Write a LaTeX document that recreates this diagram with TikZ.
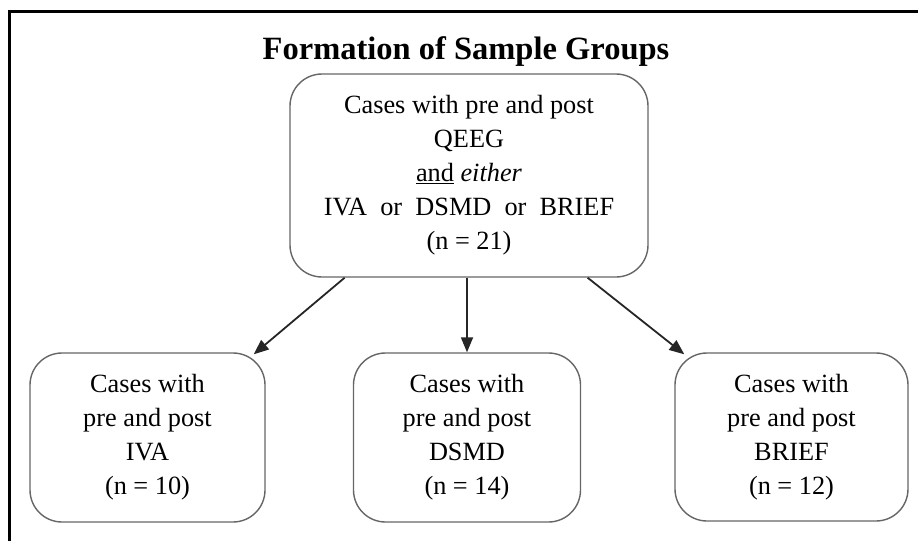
\documentclass[tikz,border=0pt]{standalone}
\usepackage{fontspec}
\setmainfont{Liberation Serif}
\usetikzlibrary{calc,arrows.meta}
\begin{document}
\begin{tikzpicture}[x=1pt,y=-1pt,
  box/.style={draw=black!60, line width=1.4pt, rounded corners=32pt,
    inner sep=0pt, align=center, font=\fontsize{26.3}{34}\selectfont},
  arr/.style={-{Triangle[length=15pt,width=12pt]}, line width=1.8pt, draw=black!85}]
\useasboundingbox (0,0) rectangle (918,541);
% page frame (top and left rules)
\draw[line width=3pt] (9,541) -- (9,11) -- (918,11);

\node[font=\bfseries\fontsize{32.5}{38}\selectfont, anchor=base] (title) at (466,59)
  {Formation of Sample Groups};

\node[box, minimum width=358pt, minimum height=203pt] (top) at (469,175.5)
  {Cases with pre and post\\ QEEG\\ \underline{and} \textit{either}\\
   IVA\ \ or\ \ DSMD\ \ or\ \ BRIEF\\ (n = 21)};

\node[box, minimum width=235pt, minimum height=169pt] (iva) at (147.5,437.5)
  {Cases with\\ pre and post\\ IVA\\ (n = 10)};
\node[box, minimum width=227pt, minimum height=169pt] (dsmd) at (467,437.5)
  {Cases with\\ pre and post\\ DSMD\\ (n = 14)};
\node[box, minimum width=233pt, minimum height=168pt] (brief) at (791.5,437)
  {Cases with\\ pre and post\\ BRIEF\\ (n = 12)};

\draw[arr] ($(top.south west)!0.154!(top.south east)$) -- ($(iva.north east)+(-12,2)$);
\draw[arr] (top.south -| dsmd.north) -- (dsmd.north);
\draw[arr] ($(top.south west)!0.83!(top.south east)$) -- ($(brief.north west)+(10,2)$);
\end{tikzpicture}
\end{document}
